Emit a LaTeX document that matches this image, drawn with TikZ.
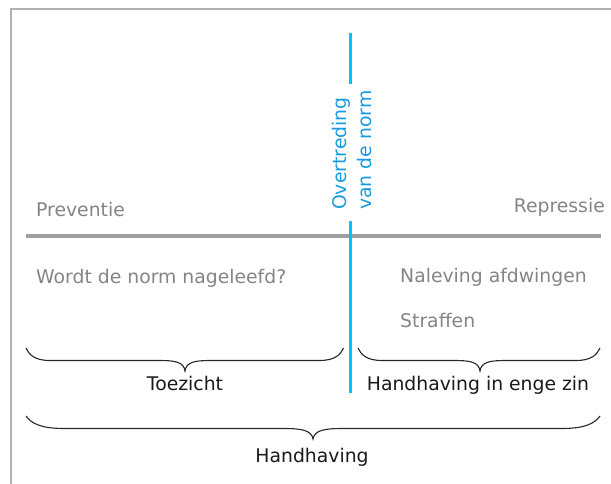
\documentclass[tikz,border=0pt]{standalone}
\usepackage{fontspec}
\setmainfont{DejaVu Sans}
\definecolor{framegray}{RGB}{176,176,176}
\definecolor{rulegray}{RGB}{160,160,160}
\definecolor{softtext}{RGB}{133,133,133}
\definecolor{normblue}{RGB}{0,196,240}
\definecolor{normtext}{RGB}{24,156,224}
\definecolor{inktext}{RGB}{26,26,26}
\definecolor{braceink}{RGB}{40,40,40}
% horizontal curly brace: #1 left x, #2 right x, #3 top y, #4 tip x, #5 end-curve width, #6 half-width of tip curve
\newcommand{\curlybrace}[6]{%
  \draw[braceline]
    (#1,#3) .. controls ({#1+0.12*#5},{#3+6.5}) and ({#1+0.35*#5},{#3+12.5}) .. ({#1+#5},{#3+12.5})
    -- ({#4-#6},{#3+12.5})
    .. controls ({#4-0.4*#6},{#3+12.5}) and ({#4-0.05*#6},{#3+14}) .. (#4,{#3+23})
    .. controls ({#4+0.05*#6},{#3+14}) and ({#4+0.4*#6},{#3+12.5}) .. ({#4+#6},{#3+12.5})
    -- ({#2-#5},{#3+12.5})
    .. controls ({#2-0.35*#5},{#3+12.5}) and ({#2-0.12*#5},{#3+6.5}) .. (#2,#3);}
\tikzset{
  frameline/.style={draw=framegray, line width=1.4pt},
  divider/.style={draw=rulegray, line width=3pt},
  normline/.style={draw=normblue, line width=3pt},
  braceline/.style={draw=braceink, line width=1.1pt},
  softlabel/.style={text=softtext, inner sep=0pt, font=\fontsize{18.8}{22}\selectfont},
  inklabel/.style={text=inktext, inner sep=0pt, font=\fontsize{18.8}{22}\selectfont},
}
\begin{document}
\begin{tikzpicture}[x=1pt,y=-1pt]
  \useasboundingbox[fill=white] (0,0) rectangle (611,484);

  % page frame (top and left edge)
  \coordinate (fbl) at (11,484);
  \coordinate (ftl) at (11,9);
  \coordinate (ftr) at (611,9);
  \draw[frameline] (fbl) -- (ftl) -- (ftr);

  % horizontal divider between prevention and repression
  \coordinate (hl) at (26,236);
  \coordinate (hr) at (601,236);
  \draw[divider] (hl) -- (hr);

  % vertical line marking the violation of the norm
  \coordinate (vtop) at (350.5,33);
  \coordinate (vgapa) at (350.5,84);
  \coordinate (vgapb) at (350.5,221.5);
  \coordinate (vbot) at (350.5,393);
  \draw[normline] (vtop) -- (vgapa);
  \draw[normline] (vgapb) -- (vbot);
  \node[rotate=90, anchor=south west, inner sep=0pt, text=normtext, align=left,
        font=\fontsize{18.8}{25}\selectfont] (violation) at (372,210)
        {Overtreding\\van de norm};

  % upper labels
  \node[softlabel, anchor=base west] (prev) at (36,217) {Preventie};
  \node[softlabel, anchor=base east] (repr) at (605,213) {Repressie};

  % lower labels
  \node[softlabel, anchor=base west] (check) at (36,283) {Wordt de norm nageleefd?};
  \node[softlabel, anchor=base west] (enforce) at (400,282) {Naleving afdwingen};
  \node[softlabel, anchor=base west] (punish) at (400,327) {Straffen};

  % braces and their captions
  \curlybrace{26}{343.5}{348}{185}{24}{25}
  \curlybrace{358}{600}{348}{480}{24}{25}
  \curlybrace{26}{600}{416}{313}{38}{30}
  \node[inklabel, anchor=base] (toezicht) at (185,390) {Toezicht};
  \node[inklabel, anchor=base] (narrow) at (478,390) {Handhaving in enge zin};
  \node[inklabel, anchor=base] (handhaving) at (312,462) {Handhaving};
\end{tikzpicture}
\end{document}
